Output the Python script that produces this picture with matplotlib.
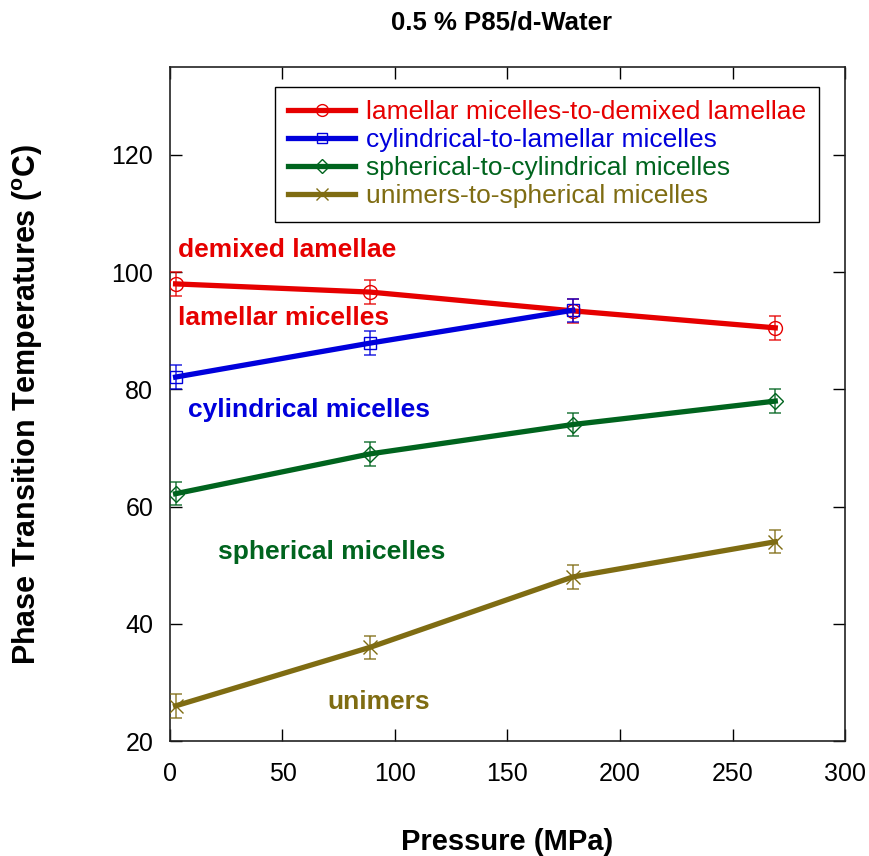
import matplotlib
matplotlib.use("Agg")
import matplotlib.pyplot as plt

plt.rcParams['font.family'] = ['Liberation Sans', 'DejaVu Sans']
plt.rcParams['mathtext.default'] = 'regular'

# pressure (MPa)
p_red = [2.5, 89, 179, 269]
p_blue = [2.5, 89, 179]
p_green = [2.5, 89, 179, 269]
p_olive = [2.5, 89, 179, 269]

# transition temperatures (C)
t_red = [98.0, 96.6, 93.4, 90.5]
t_blue = [82.1, 87.9, 93.5]
t_green = [62.2, 69.0, 74.0, 78.0]
t_olive = [26.0, 36.0, 48.0, 54.0]

err = 2.0

names = [
    "lamellar micelles-to-demixed lamellae",
    "cylindrical-to-lamellar micelles",
    "spherical-to-cylindrical micelles",
    "unimers-to-spherical micelles",
]

phase_labels = ["demixed lamellae", "lamellar micelles", "cylindrical micelles",
                "spherical micelles", "unimers"]

red = "#e60000"
blue = "#0000dc"
green = "#00641e"
olive = "#7f6c12"

series = [
    (p_red, t_red, red, "o"),
    (p_blue, t_blue, blue, "s"),
    (p_green, t_green, green, "D"),
    (p_olive, t_olive, olive, "x"),
]

fig = plt.figure(figsize=(8.69, 8.56), dpi=100)
ax = fig.add_axes([0.1956, 0.1343, 0.7768, 0.7874])

for (x, y, c, m), name in zip(series, names):
    ms = 8 if m in ("s", "D") else 10
    ax.plot(x, y, color=c, lw=3.8, marker=m, ms=ms, mfc="none",
            mec=c, mew=1.0, label=name, zorder=3)
    ax.errorbar(x, y, yerr=err, fmt="none", ecolor=c, elinewidth=1.1,
                capsize=4.3, capthick=1.1, alpha=0.85, zorder=4)

# phase region labels
txt = dict(fontsize=19, fontweight="bold", va="baseline", ha="left")
ax.text(3.6, 102.6, phase_labels[0], color=red, **txt)
ax.text(3.6, 90.9, phase_labels[1], color=red, **txt)
ax.text(8.0, 75.3, phase_labels[2], color=blue, **txt)
ax.text(21.5, 51.1, phase_labels[3], color=green, **txt)
ax.text(70.0, 25.4, phase_labels[4], color=olive, **txt)

ax.set_xlim(0, 300)
ax.set_ylim(20, 135)
ax.set_xticks(range(0, 301, 50))
ax.set_yticks(range(20, 121, 20))
ax.tick_params(direction="in", length=8.5, width=1.0, top=True, right=True,
               labelsize=18)
ax.tick_params(axis="x", pad=15)
ax.tick_params(axis="y", pad=12)
for s in ax.spines.values():
    s.set_linewidth(1.2)
    s.set_color("#222222")

ax.set_xlabel("Pressure (MPa)", fontsize=21, fontweight="bold", labelpad=30)
ax.set_ylabel("Phase Transition Temperatures ($^{o}$C)", fontsize=22,
              fontweight="bold", labelpad=48)
fig.text(0.577, 0.974, "0.5 % P85/d-Water", fontsize=18.5, fontweight="bold",
         ha="center", va="center")

leg = ax.legend(loc="upper right", bbox_to_anchor=(0.962, 0.97),
                borderaxespad=0, fontsize=19, handlelength=2.55,
                handletextpad=0.4, labelspacing=0.15, borderpad=0.5,
                fancybox=False, framealpha=1, edgecolor="black",
                labelcolor="linecolor", markerscale=0.85)
leg.get_frame().set_linewidth(1.0)

fig.savefig("out.png", dpi=100)
